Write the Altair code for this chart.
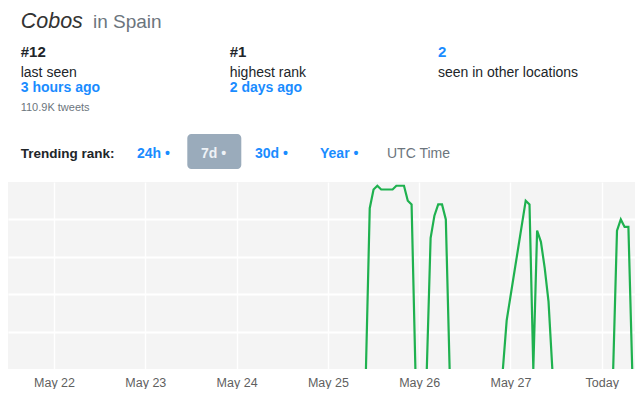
import altair as alt
import pandas as pd

# ---------------- data ----------------
block1_time = ["2023-05-25T10:00Z", "2023-05-25T11:00Z", "2023-05-25T12:00Z", "2023-05-25T13:00Z",
               "2023-05-25T14:00Z", "2023-05-25T15:00Z", "2023-05-25T16:00Z", "2023-05-25T17:00Z",
               "2023-05-25T18:00Z", "2023-05-25T19:00Z", "2023-05-25T20:00Z", "2023-05-25T21:00Z",
               "2023-05-25T22:00Z", "2023-05-25T23:00Z"]
block1_rank = [50, 7, 2, 1, 2, 2, 2, 2, 1, 1, 1, 5, 6, 50]

block2_time = ["2023-05-26T02:00Z", "2023-05-26T03:00Z", "2023-05-26T04:00Z", "2023-05-26T05:00Z",
               "2023-05-26T06:00Z", "2023-05-26T07:00Z", "2023-05-26T08:00Z"]
block2_rank = [50, 15, 9, 6, 6, 10, 50]

block3_time = ["2023-05-26T22:00Z", "2023-05-26T23:00Z", "2023-05-27T04:00Z", "2023-05-27T05:00Z",
               "2023-05-27T06:00Z", "2023-05-27T07:00Z", "2023-05-27T08:00Z", "2023-05-27T09:00Z",
               "2023-05-27T10:00Z", "2023-05-27T11:00Z"]
block3_rank = [50, 37, 5, 6, 50, 13, 16, 23, 32, 50]

block4_time = ["2023-05-28T03:00Z", "2023-05-28T04:00Z", "2023-05-28T05:00Z", "2023-05-28T06:00Z",
               "2023-05-28T07:00Z", "2023-05-28T08:00Z"]
block4_rank = [50, 13, 10, 12, 12, 50]

tick_days = [22, 23, 24, 25, 26, 27, 28]
rank_grid = [10, 20, 30, 40]

title_term = "Cobos"
title_loc = "in Spain"
stat_values = ["#12", "#1", "2"]
stat_labels = ["last seen", "highest rank", "seen in other locations"]
stat_links = ["3 hours ago", "2 days ago"]
tweets_note = "110.9K tweets"
range_label = "Trending rank:"
range_options = ["24h •", "7d •", "30d •", "Year •"]
tz_note = "UTC Time"

# ---------------- build ----------------
rows = []
for seg, (ts, rs) in enumerate([(block1_time, block1_rank), (block2_time, block2_rank),
                                (block3_time, block3_rank), (block4_time, block4_rank)]):
    for t, r in zip(ts, rs):
        rows.append({"time": t, "rank": r, "seg": seg})
df = pd.DataFrame(rows)

FONT = "Liberation Sans"
BLUE = "#1a8cff"
DARK = "#212529"
GRAY = "#6c757d"

TOP = 174  # plot top offset inside the svg

x_scale = alt.Scale(type="utc",
                    domain=[alt.DateTime(year=2023, month=5, date=21, hours=11, minutes=54, utc=True),
                            alt.DateTime(year=2023, month=5, date=28, hours=8, minutes=44, utc=True)])

line = alt.Chart(df).mark_line(color="#1fb14f", strokeWidth=2.2, clip=True).encode(
    x=alt.X("time:T", scale=x_scale, title=None,
            axis=alt.Axis(values=[alt.DateTime(year=2023, month=5, date=d, utc=True) for d in tick_days],
                          labelExpr="utcFormat(datum.value, '%d') == '28' ? 'Today' : utcFormat(datum.value, '%b %d')",
                          grid=True, gridColor="white", gridWidth=1.5, domain=False, ticks=False,
                          tickSize=0, labelPadding=7, labelFont=FONT, labelFontSize=12.5,
                          labelColor="#5f5f5f", labelFlush=False)),
    y=alt.Y("rank:Q", scale=alt.Scale(domain=[0, 50], reverse=True, nice=False, zero=False), title=None,
            axis=alt.Axis(values=rank_grid, grid=True, gridColor="white", gridWidth=2,
                          labels=False, ticks=False, domain=False)),
    detail="seg:N",
)


def txt(text, px, page_y, size=14, color=DARK, weight="normal", style="normal"):
    return alt.Chart(pd.DataFrame({"t": [text]})).mark_text(
        align="left", baseline="alphabetic", font=FONT, fontSize=size, color=color,
        fontWeight=weight, fontStyle=style
    ).encode(text="t:N", x=alt.value(px), y=alt.value(page_y - 8 - TOP))


layers = [line]
layers.append(txt(title_term, 12.7, 28, size=21.5, color="#333333", style="italic"))
layers.append(txt(title_loc, 85, 28, size=19, color=GRAY))

col_x = [12.7, 221.7, 430]
for i, v in enumerate(stat_values):
    layers.append(txt(v, col_x[i], 57, size=15, color=(BLUE if i == 2 else DARK), weight="bold"))
    layers.append(txt(stat_labels[i], col_x[i], 76.5, size=14))
for i, v in enumerate(stat_links):
    layers.append(txt(v, col_x[i], 91.5, size=14, color=BLUE, weight="bold"))
layers.append(txt(tweets_note, 12.7, 110.5, size=11, color=GRAY))

button = alt.Chart(pd.DataFrame({"b": [1]})).mark_rect(
    fill="#9aabbb", cornerRadius=4
).encode(x=alt.value(179.3), x2=alt.value(233.3),
         y=alt.value(134 - 8 - TOP), y2=alt.value(169 - 8 - TOP))
layers.append(button)

ROW_Y = 157.5
layers.append(txt(range_label, 12.7, ROW_Y, size=13.5, weight="bold"))
opt_x = [129, 193, 247, 312]
for i, o in enumerate(range_options):
    layers.append(txt(o, opt_x[i], ROW_Y, size=14, weight="bold",
                      color=("#eef2f6" if i == 1 else BLUE)))
layers.append(txt(tz_note, 379, ROW_Y, size=14, color=GRAY))

chart = alt.layer(*layers).properties(
    width=627, height=187,
    padding={"left": 0, "top": TOP, "right": 0, "bottom": 20},
    autosize=alt.AutoSizeParams(type="none"),
    background="white",
).configure_view(fill="#f4f4f4", stroke=None)

chart.save("out.html", embed_options={"renderer": "svg", "actions": False})
